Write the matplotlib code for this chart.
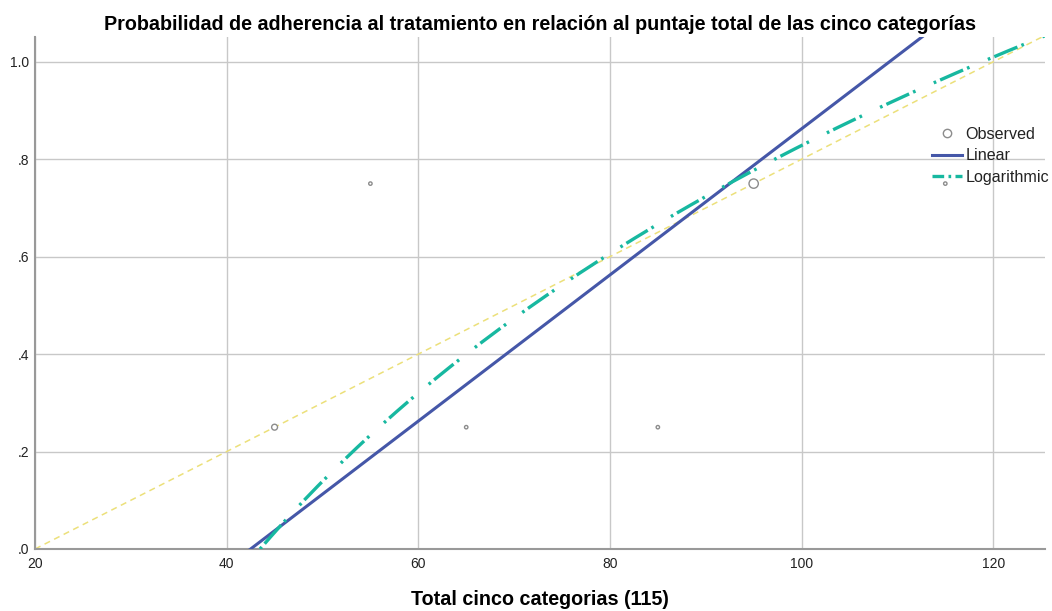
import numpy as np
import matplotlib
matplotlib.use("Agg")
import matplotlib.pyplot as plt
from matplotlib.lines import Line2D

plt.rcParams['font.family'] = ['Liberation Sans', 'DejaVu Sans']

# Observed data
obs_x = [45, 55, 65, 85, 95, 115]
obs_y = [0.25, 0.75, 0.25, 0.25, 0.75, 0.75]
obs_size = [18, 6, 6, 6, 45, 6]

# Fitted curves
lin_intercept = -0.6375   # y = a + b*x
lin_slope = 0.015
log_a = -3.752            # y = a + b*ln(x)
log_b = 0.9946
ref_line_x = [20, 125.4]  # diagonal reference line
ref_line_y = [0.0, 1.054]

xticks = [20, 40, 60, 80, 100, 120]
yticks = [0.0, 0.2, 0.4, 0.6, 0.8, 1.0]
ytick_labels = [".0", ".2", ".4", ".6", ".8", "1.0"]

fig = plt.figure(figsize=(10.52, 6.11), dpi=100)
ax = fig.add_axes([0.0333, 0.1015, 0.96, 0.838])
xmin, xmax = 20, 125.4
ymin, ymax = 0, 1.051
ax.set_xlim(xmin, xmax)
ax.set_ylim(ymin, ymax)

ax.grid(True, color="#c8c8c8", linewidth=1.0)
ax.set_axisbelow(True)

ax.plot(ref_line_x, ref_line_y, color="#ece07a", linestyle=(0, (4, 3)), linewidth=1.1, zorder=2)

ax.scatter(obs_x, obs_y, s=obs_size, facecolors="white", edgecolors="#8c8c8c",
           linewidths=1.0, zorder=3)

lin_color = "#4557a8"
log_color = "#17b8a0"
log_style = (0, (0.8, 1.3, 7.5, 1.3, 0.8, 6.0))
xl = np.linspace(xmin, xmax, 200)
ax.plot(xl, lin_intercept + lin_slope * xl, color=lin_color, linewidth=2.2, zorder=4)
xg = np.linspace(np.exp(-log_a / log_b), xmax, 300)
ax.plot(xg, log_a + log_b * np.log(xg), color=log_color, linewidth=2.4,
        linestyle=log_style, zorder=4)

for s in ["top", "right"]:
    ax.spines[s].set_visible(False)
for s in ["left", "bottom"]:
    ax.spines[s].set_color("#999999")
    ax.spines[s].set_linewidth(1.5)

ax.set_xticks(xticks)
ax.set_xticklabels([str(t) for t in xticks])
ax.set_yticks(yticks)
ax.set_yticklabels(ytick_labels)
ax.tick_params(axis="both", length=0, labelsize=10, colors="#222222")
ax.tick_params(axis="x", pad=6)
ax.tick_params(axis="y", pad=4)

ax.set_title("Probabilidad de adherencia al tratamiento en relación al puntaje total de las cinco categorías",
             fontsize=14.2, fontweight="bold", pad=5)
ax.set_xlabel("Total cinco categorias (115)", fontsize=14.2, fontweight="bold", labelpad=13.5)

handles = [
    Line2D([], [], linestyle="none", marker="o", markersize=6, markerfacecolor="white",
           markeredgecolor="#8c8c8c", markeredgewidth=1.0),
    Line2D([], [], color=lin_color, linewidth=2.2),
    Line2D([], [], color=log_color, linewidth=2.4, linestyle=(0, (3.5, 1.3, 0.8, 1.3))),
]
leg = ax.legend(handles, ["Observed", "Linear", "Logarithmic"], loc="upper left",
                bbox_to_anchor=(0.888, 0.825), frameon=False, fontsize=11.6,
                handlelength=1.85, handletextpad=0.25, labelspacing=0.42, borderaxespad=0,
                borderpad=0)
leg.set_zorder(5)
for t in leg.get_texts():
    t.set_color("#222222")

fig.savefig("out.png", dpi=100)
